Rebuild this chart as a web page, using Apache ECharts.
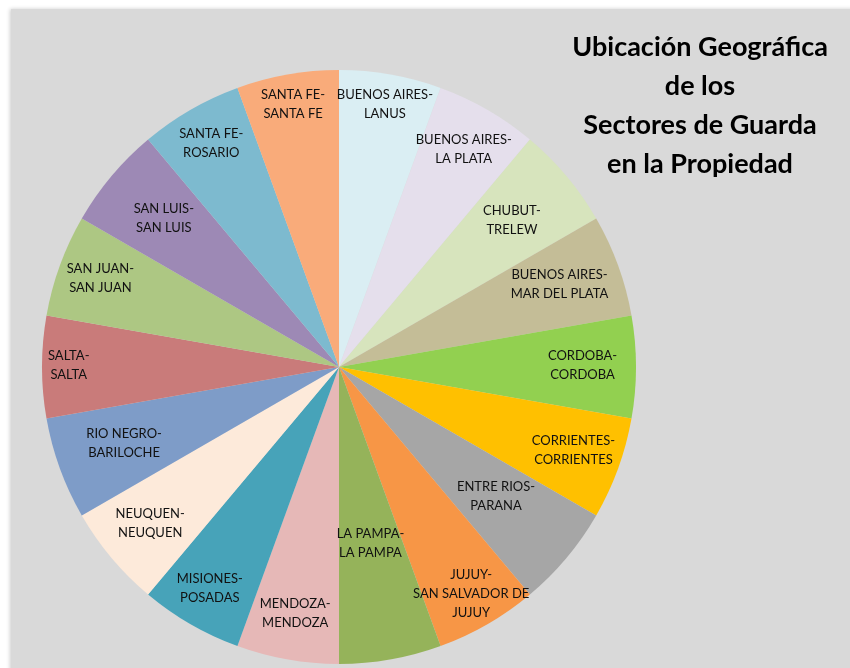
<!DOCTYPE html>
<html>
<head>
<meta charset="utf-8">
<script src="https://cdn.jsdelivr.net/npm/echarts@6/dist/echarts.min.js"></script>
<style>
  html, body { margin: 0; padding: 0; background: #fff; }
  #main { width: 850px; height: 668px; }
</style>
</head>
<body>
<div id="main"></div>
<script>
// slices, clockwise from 12 o'clock
const categories = [
  "BUENOS AIRES-\nLANUS",
  "BUENOS AIRES-\nLA PLATA",
  "CHUBUT-\nTRELEW",
  "BUENOS AIRES-\nMAR DEL PLATA",
  "CORDOBA-\nCORDOBA",
  "CORRIENTES-\nCORRIENTES",
  "ENTRE RIOS-\nPARANA",
  "JUJUY-\nSAN SALVADOR DE\nJUJUY",
  "LA PAMPA-\nLA PAMPA",
  "MENDOZA-\nMENDOZA",
  "MISIONES-\nPOSADAS",
  "NEUQUEN-\nNEUQUEN",
  "RIO NEGRO-\nBARILOCHE",
  "SALTA-\nSALTA",
  "SAN JUAN-\nSAN JUAN",
  "SAN LUIS-\nSAN LUIS",
  "SANTA FE-\nROSARIO",
  "SANTA FE-\nSANTA FE"
];
const values = [1, 1, 1, 1, 1, 1, 1, 1, 1, 1, 1, 1, 1, 1, 1, 1, 1, 1];

const colors = [
  "#DAEEF3", "#E5DFEC", "#D7E4BD", "#C4BD97", "#92D050", "#FFC000",
  "#A6A6A6", "#F79646", "#95B35A", "#E6B8B7", "#47A3B9", "#FDEADA",
  "#7E9CC8", "#C97B7A", "#ADC783", "#9D89B5", "#7DBACF", "#F9AB7A"
];
// how far out (fraction of radius) each label sits, like Excel's best fit
const labelRadius = [
  0.89, 0.84, 0.76, 0.79, 0.82, 0.84, 0.69, 0.89, 0.61,
  0.85, 0.87, 0.83, 0.77, 0.91, 0.855, 0.77, 0.86, 0.89
];

const cx = 339, cy = 367, R = 297;
const total = values.reduce((a, b) => a + b, 0);

const chart = echarts.init(document.getElementById("main"));

const options = {
  animation: false,
  backgroundColor: "#fff",
  graphic: {
    elements: [{
      type: "rect",
      z: -10,
      silent: true,
      shape: { x: 11, y: 9, width: 860, height: 680 },
      style: { fill: "#D9D9D9", shadowBlur: 4, shadowColor: "rgba(0,0,0,0.2)", shadowOffsetX: -1 }
    }]
  },
  title: {
    text: "Ubicación Geográfica\nde los\nSectores de Guarda\nen la Propiedad",
    left: 695,
    top: 23,
    textAlign: "center",
    textStyle: {
      fontFamily: "Lato",
      fontWeight: "bold",
      fontSize: 27,
      lineHeight: 39,
      color: "#000"
    }
  },
  series: [{
    type: "pie",
    center: [cx, cy],
    radius: R,
    startAngle: 90,
    clockwise: true,
    silent: true,
    itemStyle: { borderWidth: 0 },
    label: {
      show: true,
      position: "inside",
      formatter: "{b}",
      fontFamily: "Lato",
      fontSize: 13,
      lineHeight: 19,
      color: "#111",
      align: "center"
    },
    labelLine: { show: false },
    labelLayout: function (params) {
      const i = params.dataIndex;
      let before = 0;
      for (let k = 0; k < i; k++) before += values[k];
      const mid = 90 - ((before + values[i] / 2) / total) * 360;
      const a = mid * Math.PI / 180;
      const r = R * labelRadius[i];
      return {
        x: cx + r * Math.cos(a),
        y: cy - r * Math.sin(a) - 2,
        align: "center",
        verticalAlign: "middle"
      };
    },
    data: categories.map((name, i) => ({
      name: name,
      value: values[i],
      itemStyle: { color: colors[i] }
    }))
  }]
};

chart.setOption(options);
</script>
</body>
</html>
